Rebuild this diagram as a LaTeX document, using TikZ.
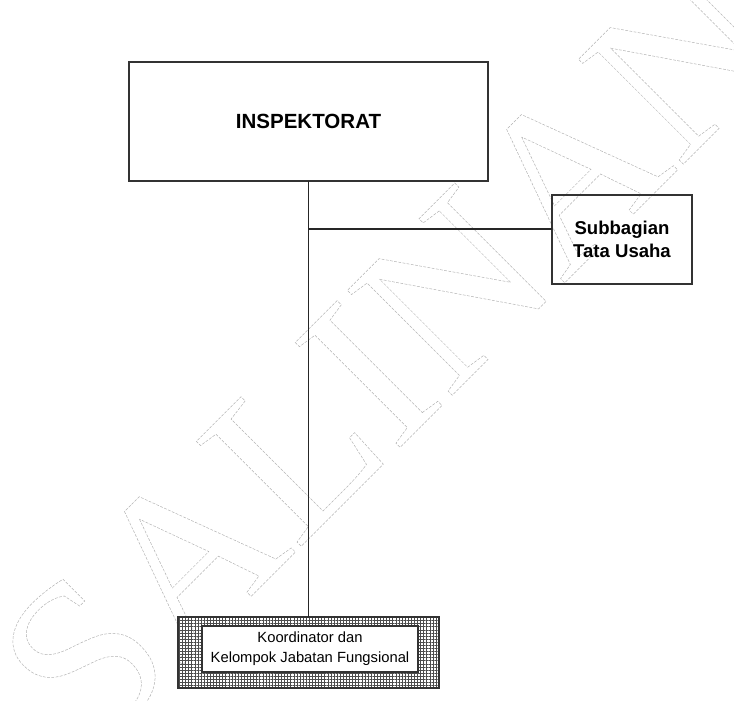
\documentclass[tikz,border=0pt]{standalone}
\usepackage{fontspec}
\setmainfont{Liberation Sans}
\newfontfamily\wmfont{Liberation Serif}
\usetikzlibrary{patterns.meta}

\newcommand\outlinetext[1]{\special{pdf:literal 1 Tr 0.35 w [2 1] 0 d}#1\special{pdf:literal 0 Tr [] 0 d}}

\tikzset{
  unitbox/.style={draw=black!80, line width=1pt, inner sep=0pt, outer sep=0pt, align=center},
  orgline/.style={draw=black!85, line width=0.8pt},
}

\begin{document}
\begin{tikzpicture}
        \useasboundingbox (0,0) rectangle (18.35,-17.525);

        % watermark
        \node[rotate=45, inner sep=0pt, font=\wmfont\fontsize{161}{161}\selectfont, text=black!30] (wm) at (9.775,-8.8) {\outlinetext{SALINAN}};

        \node[unitbox, minimum width=8.975cm, minimum height=2.975cm, font=\fontsize{14.6}{17}\selectfont\bfseries] (insp) at (7.7125,-3.0375) {INSPEKTORAT};
        \node[unitbox, minimum width=3.5cm, minimum height=2.225cm, font=\fontsize{13.2}{16.4}\selectfont\bfseries] (tu) at (15.55,-5.9875) {Subbagian\\Tata Usaha};

        \node[unitbox, minimum width=6.525cm, minimum height=1.775cm, pattern={Hatch[angle=0, distance=2.2pt, line width=0.45pt]}, pattern color=black!70] (jfframe) at (7.7125,-16.3125) {};
        \node[unitbox, fill=white, minimum width=5.4cm, minimum height=1.15cm, font=\fontsize{10.5}{14.2}\selectfont] (jf) at (7.75,-16.225) {Koordinator dan\\Kelompok Jabatan Fungsional};

        \draw[orgline] (insp.south) -- (jfframe.north);
        \path (insp.south) ++(0,-1.2) coordinate (tap);
        \draw[orgline] (tap) -- (tap -| tu.west);
\end{tikzpicture}
\end{document}
